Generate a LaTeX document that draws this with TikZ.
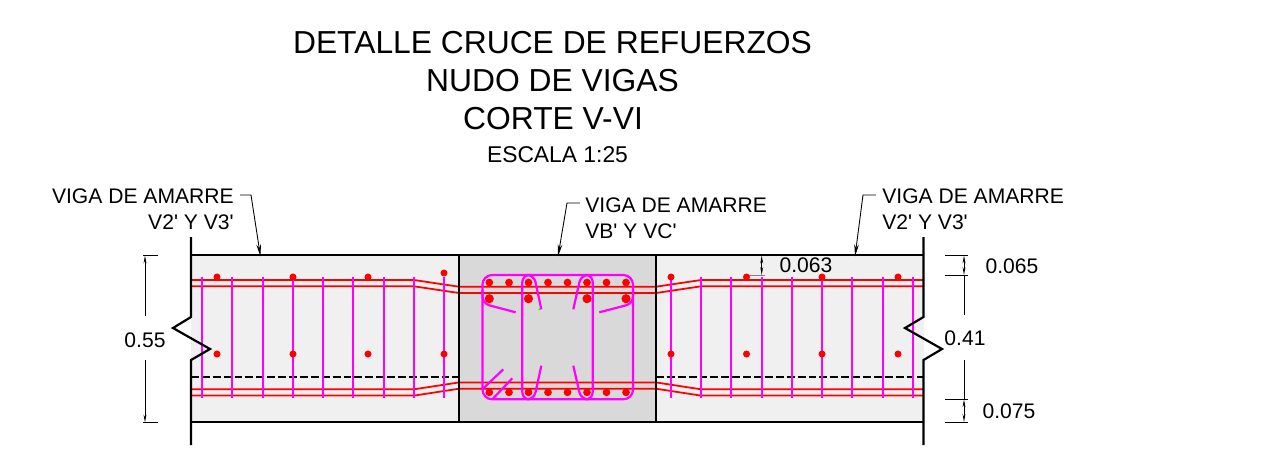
\documentclass[tikz,border=0pt]{standalone}
\usepackage{fontspec}
\setmainfont{Liberation Sans}[Ligatures=TeXOff]
\usetikzlibrary{arrows.meta}
\definecolor{sidegray}{HTML}{F0F0F0}
\definecolor{coregray}{HTML}{D9D9D9}
\definecolor{stirrupcolor}{HTML}{FF00FF}
\tikzset{
  wall/.style={line width=1.25pt, black},
  bar/.style={line width=1pt, red},
  stirrup/.style={line width=1.25pt, stirrupcolor},
  leader/.style={line width=0.5pt, -{Stealth[length=7pt,width=2.6pt]}},
  dimline/.style={line width=0.5pt},
  dimtip/.style={line width=0.5pt, {Stealth[length=4.5pt,width=1.6pt]}-{Stealth[length=4.5pt,width=1.6pt]}},
  label/.style={font=\fontsize{12}{14.7}\selectfont, inner sep=0pt},
  titlelabel/.style={font=\fontsize{18.1}{21.5}\selectfont, inner sep=0pt}
}
\begin{document}
\begin{tikzpicture}[x=0.02cm, y=-0.02cm]
  \useasboundingbox (0,0) rectangle (1284,454);
  % Fondos
  \fill[sidegray] (191,255) rectangle (924,422);
  \fill[coregray] (459,255) rectangle (656,422);
  % Titulo
  \node[titlelabel] (title1) at (552.5,43) {DETALLE CRUCE DE REFUERZOS};
  \node[titlelabel] (title2) at (552.5,81) {NUDO DE VIGAS};
  \node[titlelabel] (title3) at (553,119) {CORTE V-VI};
  \node[label, font=\fontsize{13}{15}\selectfont] (scale) at (557.5,155) {ESCALA 1:25};
  % Barras longitudinales
  \foreach \y in {280,286.3} {
    \draw[bar] (191,\y) -- (414,\y) -- (459,\y+6.7) -- (656,\y+6.7) -- (701,\y) -- (924,\y);
  }
  \foreach \y in {389.3,395.6} {
    \draw[bar] (191,\y) -- (414,\y) -- (459,\y-6.9) -- (656,\y-6.9) -- (701,\y) -- (924,\y);
  }
  % Linea punteada
  \draw[line width=0.9pt, dash pattern=on 4.5pt off 1.7pt] (191,376.7) -- (459,376.7);
  \draw[line width=0.9pt, dash pattern=on 4.5pt off 1.7pt] (656,376.7) -- (924,376.7);
  % Estribos vigas
  \foreach \x in {202,232,262.7,293,323,353,384,414,444} {
    \draw[stirrup] (\x,276.5) -- (\x,398);
  }
  \foreach \x in {671,701,731.3,762,792,822,852,883,913} {
    \draw[stirrup] (\x,276.5) -- (\x,398);
  }
  % Puntos vigas
  \foreach \x/\y in {217/277,293/277,368/277,444/273,671/277,746.5/277,822/277,898/277} {
    \fill[red] (\x,\y) circle (2pt);
    \fill[red] (\x,354) circle (2pt);
  }
  % Estribos nudo
  \draw[stirrup, rounded corners=5.5pt] (482.5,275) rectangle (633,399.3);
  \draw[stirrup, rounded corners=4pt] (541.3,309.3) -- (534,275) -- (522.3,275) -- (522.3,399.3) -- (534,399.3) -- (541.3,365.7);
  \draw[stirrup, rounded corners=4pt] (573.3,309.3) -- (581,275) -- (592.7,275) -- (592.7,399.3) -- (581,399.3) -- (573.3,365.7);
  \draw[stirrup, rounded corners=4pt] (482.5,290) -- (482.5,303.5) -- (515.7,312.3);
  \draw[stirrup, rounded corners=4pt] (633,290) -- (633,303.5) -- (599.3,312.3);
  \draw[stirrup] (483.3,388.3) -- (503.3,369.3);
  \draw[stirrup] (492.3,399.3) -- (512.3,378.3);
  \fill[green] (539.3,309.3) circle (0.6pt);
  % Puntos nudo
  \foreach \x in {489.3,509,528.5,548,567.5,587,606.5,626} {
    \fill[red] (\x,282.5) circle (2.2pt);
    \fill[red] (\x,392.3) circle (2.2pt);
  }
  \foreach \x in {489.3,528.5,587,626} {
    \fill[red] (\x,298.7) circle (2.6pt);
  }
  % Contornos
  \draw[wall] (191,255) -- (924,255);
  \draw[wall] (191,422) -- (924,422);
  \draw[wall] (459,255) -- (459,422);
  \draw[wall] (656,255) -- (656,422);
  \draw[wall] (191,237) -- (191,317) -- (173,328) -- (210,349) -- (191,360) -- (191,445);
  \draw[wall] (923.5,237) -- (923.5,317) -- (905,328) -- (942,349) -- (923.5,360) -- (923.5,445);
  % Textos de viga
  \node[label, anchor=east, align=right] (vigaL) at (234,209) {VIGA DE AMARRE\\V2' Y V3'};
  \node[label, anchor=west, align=left] (vigaC) at (585,218) {VIGA DE AMARRE\\VB' Y VC'};
  \node[label, anchor=west, align=left] (vigaR) at (882,209) {VIGA DE AMARRE\\V2' Y V3'};
  % Flechas
  \coordinate (endL) at (260.5,256.5);
  \coordinate (endC) at (558,256.5);
  \coordinate (endR) at (855,256.5);
  \coordinate (elbowL) at (251,195);
  \coordinate (elbowC) at (567,203);
  \coordinate (elbowR) at (863,195);
  \draw[leader] (240,195) -- (elbowL) -- (endL);
  \draw[leader] (580,203) -- (elbowC) -- (endC);
  \draw[leader] (876,195) -- (elbowR) -- (endR);
  % Cotas
  \node[label] (dimA) at (145,340) {0.55};
  \node[label] (dimB) at (965,338) {0.41};
  \node[label] (dimC) at (1012,266) {0.065};
  \node[label] (dimD) at (1009,411) {0.075};
  \node[label] (dimE) at (806,265) {0.063};
  \draw[dimline] (143,255.5) -- (158,255.5);
  \draw[dimline] (143,422.5) -- (158,422.5);
  \draw[dimline, {Stealth[length=4.5pt,width=1.6pt]}-] (145,255.5) -- (145,316);
  \draw[dimline, -{Stealth[length=4.5pt,width=1.6pt]}] (145,360) -- (145,422.5);
  \draw[dimline] (945,255.5) -- (968,255.5);
  \draw[dimline] (945,275) -- (968,275);
  \draw[dimline] (945,399.3) -- (968,399.3);
  \draw[dimline] (945,422) -- (968,422);
  \draw[dimtip] (964,255.5) -- (964,275);
  \draw[dimline] (964,275) -- (964,315);
  \draw[dimline] (964,360) -- (964,399.3);
  \draw[dimtip] (964,399.3) -- (964,422);
  \draw[dimline, gray] (749,275) -- (765,275);
  \draw[dimtip] (761.7,255.5) -- (761.7,275);
\end{tikzpicture}
\end{document}
